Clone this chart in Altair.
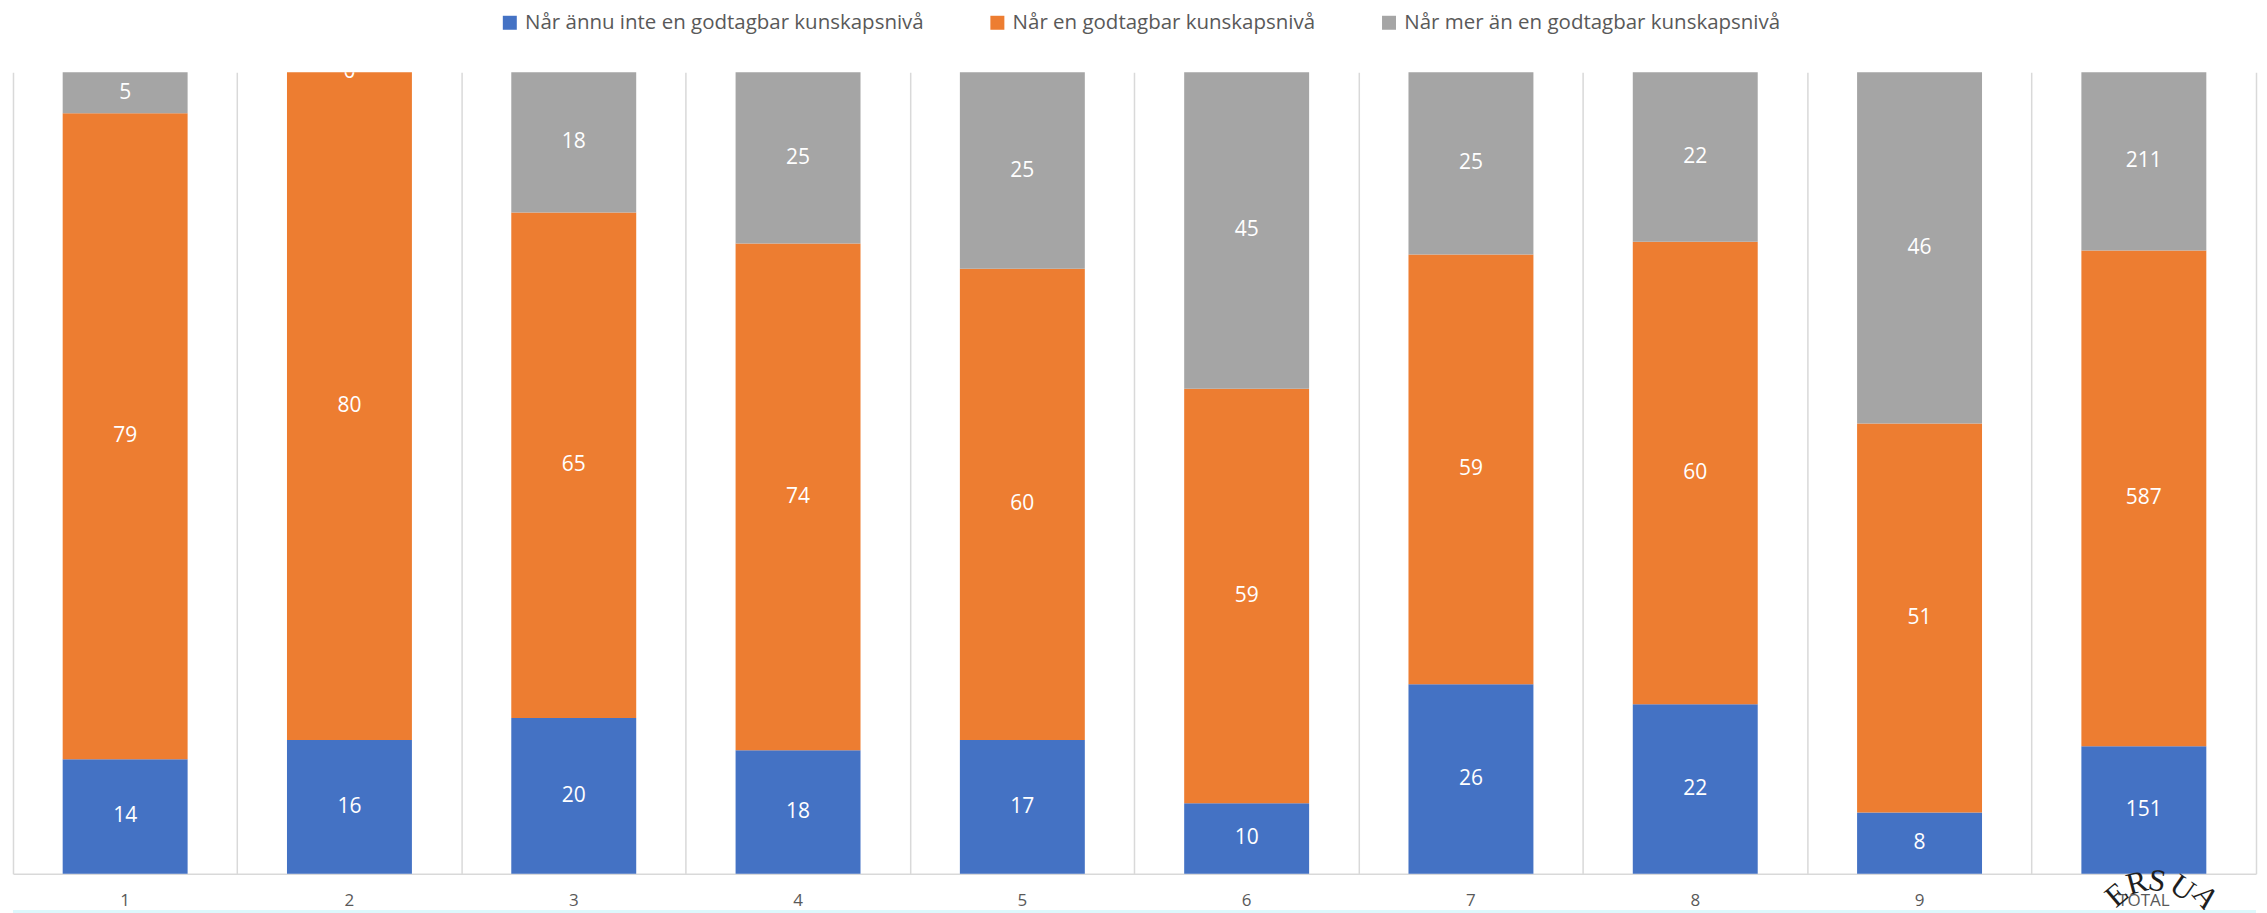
import altair as alt
import pandas as pd

categories = ["1", "2", "3", "4", "5", "6", "7", "8", "9", "TOTAL"]
series = [
    "Når ännu inte en godtagbar kunskapsnivå",
    "Når en godtagbar kunskapsnivå",
    "Når mer än en godtagbar kunskapsnivå",
]
blue_values = [14, 16, 20, 18, 17, 10, 26, 22, 8, 151]
orange_values = [79, 80, 65, 74, 60, 59, 59, 60, 51, 587]
gray_values = [5, 0, 18, 25, 25, 45, 25, 22, 46, 211]
colors = ["#4472C4", "#ED7D31", "#A5A5A5"]

# partially visible stamp (watermark) letters in the lower right corner
stamp_letters = ["E", "R", "S", "U", "A"]

rows = []
for k, vals in enumerate([blue_values, orange_values, gray_values]):
    for c, v in zip(categories, vals):
        rows.append({"cat": c, "series": series[k], "order": k, "value": v})
df = pd.DataFrame(rows)

W, H = 2245, 802
step = W / len(categories)
p_inner = 0.443
p_outer = p_inner / 2
bandwidth = step * (1 - p_inner)
grid_pos = -(p_outer * step) / bandwidth

base = alt.Chart(df).transform_stack(
    stack="value",
    groupby=["cat"],
    as_=["y0", "y1"],
    offset="normalize",
    sort=[alt.SortField("order", order="ascending")],
).transform_calculate(mid="(datum.y0 + datum.y1) / 2")

x_enc = alt.X(
    "cat:N",
    sort=categories,
    scale=alt.Scale(paddingInner=p_inner, paddingOuter=p_outer),
    axis=alt.Axis(
        title=None,
        labelAngle=0,
        grid=True,
        gridColor="#d9d9d9",
        gridWidth=1.5,
        bandPosition=grid_pos,
        ticks=False,
        domainColor="#d9d9d9",
        domainWidth=1.5,
        labelFont="Open Sans",
        labelFontSize=17,
        labelColor="#595959",
        labelPadding=19,
    ),
)

y_scale = alt.Scale(domain=[0, 1], nice=False)

bars = base.mark_bar().encode(
    x=x_enc,
    y=alt.Y(
        "y0:Q",
        scale=y_scale,
        axis=alt.Axis(
            orient="right",
            title=None,
            labels=False,
            ticks=False,
            grid=False,
            domainColor="#d9d9d9",
            domainWidth=1.5,
        ),
    ),
    y2="y1:Q",
    color=alt.Color(
        "series:N",
        scale=alt.Scale(domain=series, range=colors),
        legend=alt.Legend(
            title=None,
            orient="none",
            legendX=487,
            legendY=-60,
            direction="horizontal",
            columnPadding=63,
            labelOffset=5,
            labelFont="Open Sans",
            labelFontSize=20.5,
            labelColor="#595959",
            labelLimit=1000,
            symbolType="square",
            symbolSize=196,
            symbolStrokeWidth=0,
        ),
    ),
    order=alt.Order("order:Q"),
)

labels = base.mark_text(
    color="white", font="Open Sans", fontSize=21, baseline="middle", clip=True
).encode(
    x=alt.X("cat:N", sort=categories),
    y=alt.Y("mid:Q", scale=y_scale),
    text=alt.Text("value:Q"),
)

# decorative stamp letters (pixel placement, not data)
stamp_pos = [(2106, 824, 320), (2126, 812, 345),
             (2146, 810, 10), (2171, 817, 35), (2194, 826, 50)]
stamp_layers = []
for letter, (px, py, ang) in zip(stamp_letters, stamp_pos):
    stamp_layers.append(
        alt.Chart(pd.DataFrame({"t": [letter]}))
        .mark_text(font="Liberation Serif", fontSize=31, color="#1e1e1e",
                   angle=ang, baseline="middle", align="center")
        .encode(x=alt.value(px), y=alt.value(py), text="t:N")
    )

bottom_strip = (
    alt.Chart(pd.DataFrame({"t": [0]}))
    .mark_rule(color="#ddf8fc", strokeWidth=3)
    .encode(x=alt.value(0), x2=alt.value(W), y=alt.value(H + 38))
)

chart = (
    alt.layer(bars, labels, *stamp_layers, bottom_strip)
    .properties(
        width=W,
        height=H,
        autosize=alt.AutoSizeParams(type="pad"),
        padding={"left": 3, "top": 4, "right": 1, "bottom": 0},
    )
    .configure_view(stroke=None)
)

chart.save("out.html", embed_options={"renderer": "svg", "actions": False})
